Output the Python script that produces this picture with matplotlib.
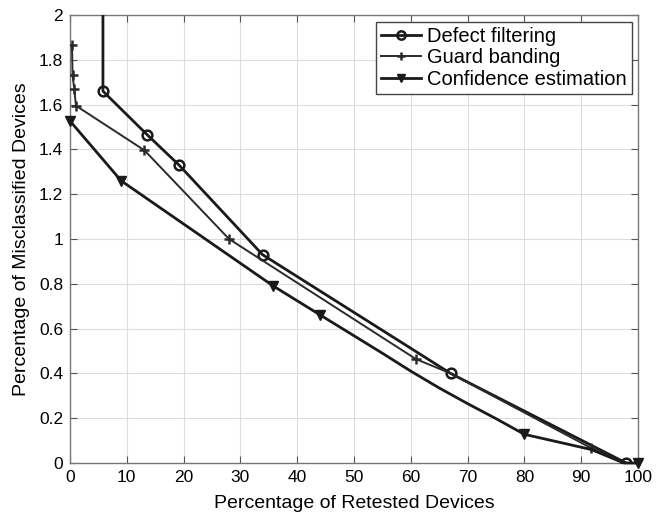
import matplotlib
matplotlib.use("Agg")
import matplotlib.pyplot as plt
from matplotlib.lines import Line2D

plt.rcParams['font.family'] = ['Liberation Sans', 'DejaVu Sans']

# Data
defect_x = [5.8, 5.8, 13.6, 19.2, 33.9, 67.0, 97.9]
defect_y = [2.5, 1.66, 1.465, 1.33, 0.93, 0.40, 0.0]
defect_mark = [1, 2, 3, 4, 5, 6]

guard_x = [0.35, 0.45, 0.75, 1.05, 13.1, 28.0, 60.9, 67.0, 91.8, 97.9]
guard_y = [1.866, 1.73, 1.67, 1.595, 1.396, 1.0, 0.464, 0.40, 0.066, 0.0]
guard_mark = [0, 1, 2, 3, 4, 5, 6, 8]

conf_x = [0.0, 9.0, 35.8, 44.1, 50.0, 55.0, 60.0, 65.0, 70.0, 75.0, 80.0, 91.8, 97.5, 100.0]
conf_y = [1.527, 1.26, 0.79, 0.66, 0.568, 0.49, 0.41, 0.335, 0.265, 0.198, 0.128, 0.06, 0.0, 0.0]
conf_mark = [0, 1, 2, 3, 10, 13]

fig = plt.figure(figsize=(6.66, 5.13), dpi=100)
ax = fig.add_axes([70/666, 1-463/513, (638-70)/666, (463-15)/513])

c = '#1a1a1a'
ax.plot(defect_x, defect_y, color=c, lw=2.0, marker='o', ms=7, mfc='none',
        mew=1.8, markevery=defect_mark, zorder=3)
ax.plot(guard_x, guard_y, color='#2a2a2a', lw=1.4, marker='+', ms=7,
        mew=1.8, markevery=guard_mark, zorder=3)
ax.plot(conf_x, conf_y, color=c, lw=2.0, marker='v', ms=7,
        markevery=conf_mark, clip_on=False, zorder=4)

ax.set_xlim(0, 100)
ax.set_ylim(0, 2)
ax.set_xticks(range(0, 101, 10))
ax.set_yticks([0, 0.2, 0.4, 0.6, 0.8, 1, 1.2, 1.4, 1.6, 1.8, 2])
ax.set_yticklabels(['0', '0.2', '0.4', '0.6', '0.8', '1', '1.2', '1.4', '1.6', '1.8', '2'])
ax.grid(True, color='#dcdcdc', lw=0.8)
ax.set_axisbelow(True)
ax.tick_params(direction='in', top=True, right=True, labelsize=12.5, length=5,
               color='#555555', pad=5)
for s in ax.spines.values():
    s.set_color('#777777')
    s.set_linewidth(1.0)

ax.set_xlabel('Percentage of Retested Devices', fontsize=14, labelpad=7)
ax.set_ylabel('Percentage of Misclassified Devices', fontsize=14, labelpad=6)

handles = [
    Line2D([], [], color=c, lw=2.0, marker='o', ms=6, mfc='none', mew=1.8),
    Line2D([], [], color='#2a2a2a', lw=1.4, marker='+', ms=6, mew=1.8),
    Line2D([], [], color=c, lw=2.0, marker='v', ms=6),
]
leg = ax.legend(handles, ['Defect filtering', 'Guard banding', 'Confidence estimation'],
                loc='upper right', bbox_to_anchor=(632/666, 1-22/513),
                bbox_transform=fig.transFigure, fontsize=14.5, fancybox=False,
                framealpha=1, edgecolor='#444444', borderpad=0.25,
                labelspacing=0.12, handlelength=2.0, handletextpad=0.3,
                borderaxespad=0)
leg.get_frame().set_linewidth(1.0)

fig.savefig('out.png', dpi=100)
